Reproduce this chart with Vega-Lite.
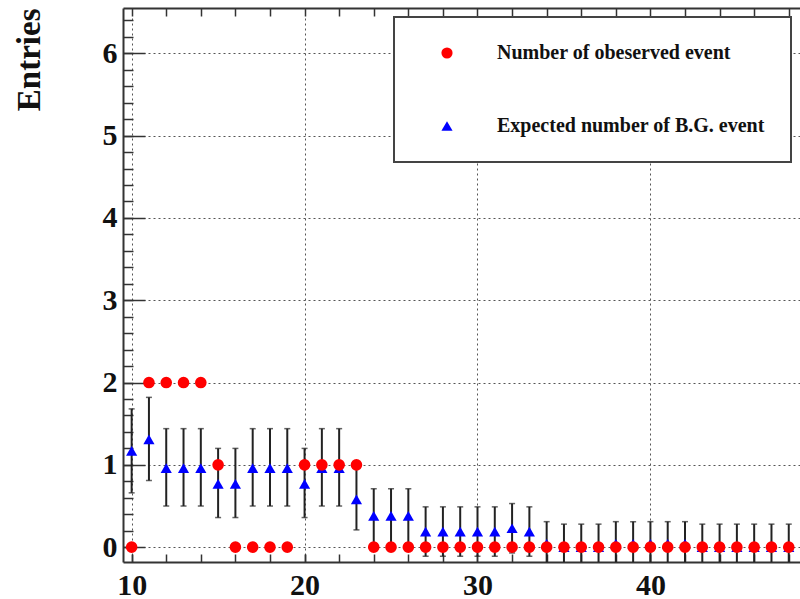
{
  "$schema": "https://vega.github.io/schema/vega-lite/v6.json",
  "width": 677,
  "height": 554,
  "autosize": {"type": "none"},
  "padding": {"left": 123, "top": 8, "right": 0, "bottom": 37},
  "background": "white",
  "config": {
    "view": {"stroke": null},
    "font": "Liberation Serif",
    "axis": {
      "labelFont": "Liberation Serif",
      "labelFontWeight": "bold",
      "labelFontSize": 30,
      "labelColor": "#111111",
      "labelFlush": false,
      "domainColor": "#333333",
      "domainWidth": 2,
      "tickColor": "#333333",
      "tickWidth": 1.5,
      "gridColor": "#555555",
      "gridDash": [2, 3],
      "gridWidth": 1,
      "titleFont": "Liberation Serif",
      "titleFontWeight": "bold",
      "titleColor": "#111111"
    },
    "legend": {
      "orient": "none",
      "legendX": 271,
      "legendY": 9,
      "padding": 26,
      "strokeColor": "#444444",
      "strokeWidth": 2,
      "fillColor": "white",
      "labelFont": "Liberation Serif",
      "labelFontWeight": "bold",
      "labelFontSize": 20,
      "labelColor": "#111111",
      "labelLimit": 400,
      "symbolSize": 125,
      "symbolStrokeWidth": 0,
      "rowPadding": 53,
      "labelOffset": 40,
      "symbolOffset": 17
    }
  },
  "data": {
    "values": [
      {"x": 10, "obs": 0, "exp": 1.17, "lo": 0.66, "hi": 1.68},
      {"x": 11, "obs": 2, "exp": 1.31, "lo": 0.81, "hi": 1.82},
      {"x": 12, "obs": 2, "exp": 0.96, "lo": 0.50, "hi": 1.44},
      {"x": 13, "obs": 2, "exp": 0.96, "lo": 0.50, "hi": 1.44},
      {"x": 14, "obs": 2, "exp": 0.96, "lo": 0.50, "hi": 1.44},
      {"x": 15, "obs": 1, "exp": 0.77, "lo": 0.36, "hi": 1.20},
      {"x": 16, "obs": 0, "exp": 0.77, "lo": 0.36, "hi": 1.20},
      {"x": 17, "obs": 0, "exp": 0.96, "lo": 0.50, "hi": 1.44},
      {"x": 18, "obs": 0, "exp": 0.96, "lo": 0.50, "hi": 1.44},
      {"x": 19, "obs": 0, "exp": 0.96, "lo": 0.50, "hi": 1.44},
      {"x": 20, "obs": 1, "exp": 0.77, "lo": 0.36, "hi": 1.20},
      {"x": 21, "obs": 1, "exp": 0.96, "lo": 0.50, "hi": 1.44},
      {"x": 22, "obs": 1, "exp": 0.96, "lo": 0.50, "hi": 1.44},
      {"x": 23, "obs": 1, "exp": 0.58, "lo": 0.21, "hi": 0.96},
      {"x": 24, "obs": 0, "exp": 0.38, "lo": 0.05, "hi": 0.71},
      {"x": 25, "obs": 0, "exp": 0.38, "lo": 0.05, "hi": 0.71},
      {"x": 26, "obs": 0, "exp": 0.38, "lo": 0.05, "hi": 0.71},
      {"x": 27, "obs": 0, "exp": 0.19, "lo": -0.11, "hi": 0.49},
      {"x": 28, "obs": 0, "exp": 0.19, "lo": -0.11, "hi": 0.49},
      {"x": 29, "obs": 0, "exp": 0.19, "lo": -0.11, "hi": 0.49},
      {"x": 30, "obs": 0, "exp": 0.19, "lo": -0.11, "hi": 0.49},
      {"x": 31, "obs": 0, "exp": 0.19, "lo": -0.11, "hi": 0.49},
      {"x": 32, "obs": 0, "exp": 0.23, "lo": -0.07, "hi": 0.53},
      {"x": 33, "obs": 0, "exp": 0.19, "lo": -0.11, "hi": 0.49},
      {"x": 34, "obs": 0, "exp": 0.04, "lo": -0.27, "hi": 0.31},
      {"x": 35, "obs": 0, "exp": 0.0, "lo": -0.28, "hi": 0.28},
      {"x": 36, "obs": 0, "exp": 0.0, "lo": -0.28, "hi": 0.28},
      {"x": 37, "obs": 0, "exp": 0.0, "lo": -0.28, "hi": 0.28},
      {"x": 38, "obs": 0, "exp": 0.04, "lo": -0.27, "hi": 0.31},
      {"x": 39, "obs": 0, "exp": 0.04, "lo": -0.27, "hi": 0.31},
      {"x": 40, "obs": 0, "exp": 0.04, "lo": -0.27, "hi": 0.31},
      {"x": 41, "obs": 0, "exp": 0.04, "lo": -0.27, "hi": 0.31},
      {"x": 42, "obs": 0, "exp": 0.04, "lo": -0.27, "hi": 0.31},
      {"x": 43, "obs": 0, "exp": 0.0, "lo": -0.28, "hi": 0.28},
      {"x": 44, "obs": 0, "exp": 0.0, "lo": -0.28, "hi": 0.28},
      {"x": 45, "obs": 0, "exp": 0.0, "lo": -0.28, "hi": 0.28},
      {"x": 46, "obs": 0, "exp": 0.0, "lo": -0.28, "hi": 0.28},
      {"x": 47, "obs": 0, "exp": 0.0, "lo": -0.28, "hi": 0.28},
      {"x": 48, "obs": 0, "exp": 0.0, "lo": -0.28, "hi": 0.28}
    ]
  },
  "layer": [
    {
      "mark": {"type": "rule", "color": "#222222", "strokeWidth": 2, "clip": true},
      "encoding": {
        "x": {
          "field": "x", "type": "quantitative",
          "scale": {"domain": [9.5, 48.65], "nice": false, "zero": false},
          "axis": {"orient": "bottom", "values": [10, 20, 30, 40], "tickSize": -8, "labelPadding": 16, "grid": true, "title": null}
        },
        "y": {
          "field": "lo", "type": "quantitative",
          "scale": {"domain": [-0.18, 6.55], "nice": false, "zero": false},
          "axis": {"orient": "left", "values": [0, 1, 2, 3, 4, 5, 6], "tickSize": -22, "labelPadding": 28, "grid": true,
            "title": "Entries", "titleFontSize": 33, "titleAngle": 270, "titleAlign": "right", "titleBaseline": "middle", "titleX": -94, "titleY": 0}
        },
        "y2": {"field": "hi"}
      }
    },
    {
      "mark": {"type": "tick", "orient": "horizontal", "size": 6, "thickness": 1.5, "color": "#222222", "clip": true},
      "encoding": {
        "x": {
          "field": "x", "type": "quantitative",
          "scale": {"domain": [9.5, 48.65], "nice": false, "zero": false},
          "axis": {"orient": "bottom", "values": [10, 12, 14, 16, 18, 20, 22, 24, 26, 28, 30, 32, 34, 36, 38, 40, 42, 44, 46, 48], "tickSize": -8, "labels": false, "grid": false, "domain": false, "title": null}
        },
        "y": {
          "field": "hi", "type": "quantitative",
          "scale": {"domain": [-0.18, 6.55], "nice": false, "zero": false},
          "axis": {"orient": "left", "values": [0, 0.2, 0.4, 0.6, 0.8, 1, 1.2, 1.4, 1.6, 1.8, 2, 2.2, 2.4, 2.6, 2.8, 3, 3.2, 3.4, 3.6, 3.8, 4, 4.2, 4.4, 4.6, 4.8, 5, 5.2, 5.4, 5.6, 5.8, 6, 6.2, 6.4], "tickSize": -10, "labels": false, "grid": false, "domain": false, "title": null}
        }
      }
    },
    {
      "mark": {"type": "tick", "orient": "horizontal", "size": 6, "thickness": 1.5, "color": "#222222", "clip": true},
      "encoding": {
        "x": {
          "field": "x", "type": "quantitative",
          "scale": {"domain": [9.5, 48.65], "nice": false, "zero": false},
          "axis": {"orient": "top", "values": [10, 12, 14, 16, 18, 20, 22, 24, 26, 28, 30, 32, 34, 36, 38, 40, 42, 44, 46, 48], "tickSize": -8, "labels": false, "grid": false, "domain": true, "title": null}
        },
        "y": {
          "field": "lo", "type": "quantitative",
          "scale": {"domain": [-0.18, 6.55], "nice": false, "zero": false},
          "axis": null
        }
      }
    },
    {
      "mark": {"type": "point", "filled": true, "size": 125, "opacity": 1},
      "encoding": {
        "x": {"field": "x", "type": "quantitative", "scale": {"domain": [9.5, 48.65], "nice": false, "zero": false}, "axis": null},
        "y": {"field": "exp", "type": "quantitative", "scale": {"domain": [-0.18, 6.55], "nice": false, "zero": false}, "axis": null},
        "color": {"datum": "Expected number of B.G. event", "type": "nominal",
          "scale": {"domain": ["Number of obeserved event", "Expected number of B.G. event"], "range": ["#ff0000", "#0000ff"]},
          "legend": {"title": null}},
        "shape": {"datum": "Expected number of B.G. event", "type": "nominal",
          "scale": {"domain": ["Number of obeserved event", "Expected number of B.G. event"], "range": ["circle", "triangle-up"]},
          "legend": {"title": null}}
      }
    },
    {
      "mark": {"type": "point", "filled": true, "size": 135, "opacity": 1},
      "encoding": {
        "x": {"field": "x", "type": "quantitative", "scale": {"domain": [9.5, 48.65], "nice": false, "zero": false}, "axis": null},
        "y": {"field": "obs", "type": "quantitative", "scale": {"domain": [-0.18, 6.55], "nice": false, "zero": false}, "axis": null},
        "color": {"datum": "Number of obeserved event", "type": "nominal"},
        "shape": {"datum": "Number of obeserved event", "type": "nominal"}
      }
    }
  ],
  "resolve": {"axis": {"x": "independent", "y": "independent"}}
}
